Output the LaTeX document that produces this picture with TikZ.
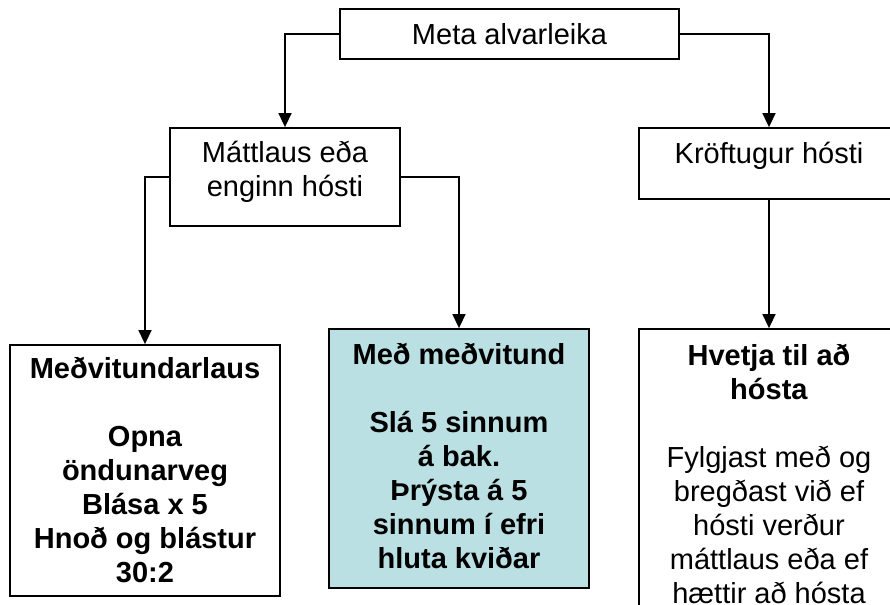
\documentclass[tikz,border=0pt]{standalone}
\usepackage{fontspec}
\setmainfont{Liberation Sans}
\usepackage{tikz}
\usetikzlibrary{arrows.meta}
\definecolor{ljosblar}{RGB}{187,224,227}
\tikzstyle{kassi} = [rectangle, draw=black, line width=0.9pt, inner sep=0pt, align=center, font=\fontsize{14.5}{17}\selectfont]
\tikzstyle{feitur} = [kassi, font=\fontsize{14.5}{17}\selectfont\bfseries]
\tikzstyle{arrow} = [line width=0.75pt, -{Triangle[length=7pt,width=6.5pt]}]

\begin{document}
\begin{tikzpicture}[x=0.5pt, y=-0.5pt]
        \useasboundingbox (0,0) rectangle (890,605);
        \clip (0,0) rectangle (890,605);
        \node (meta) [kassi, minimum width=169.5pt, minimum height=25pt] at (509.5,34) {Meta alvarleika};
        \node (mattlaus) [kassi, minimum width=115pt, minimum height=49pt, text depth=8.5pt] at (285,177) {Máttlaus eða\\enginn hósti};
        \node (kroftugur) [kassi, minimum width=130pt, minimum height=35.5pt, text depth=11pt] at (769,163.5) {Kröftugur hósti};
        \node (medvitundarlaus) [feitur, minimum width=135pt, minimum height=125.5pt] at (145,470.5) {Meðvitundarlaus\\[17pt]Opna\\öndunarveg\\Blása x 5\\Hnoð og blástur\\30:2};
        \node (medvitund) [feitur, fill=ljosblar, minimum width=130pt, minimum height=129.5pt, text depth=3pt] at (459,458.5) {Með meðvitund\\[17pt]Slá 5 sinnum\\ á bak.\\Þrýsta á 5\\sinnum í efri\\hluta kviðar};
        \node (hvetja) [kassi, minimum width=130pt, minimum height=147.5pt, text depth=3pt] at (769,476.5) {\textbf{Hvetja til að}\\\textbf{hósta}\\[17pt]Fylgjast með og\\bregðast við ef\\hósti verður\\máttlaus eða ef\\hættir að hósta};

        \draw [arrow] (meta.west) -| (mattlaus.north);
        \draw [arrow] (meta.east) -| (kroftugur.north);
        \draw [arrow] (mattlaus.west) -| (medvitundarlaus.north);
        \draw [arrow] (mattlaus.east) -| (medvitund.north);
        \draw [arrow] (kroftugur) -- (hvetja);
    \end{tikzpicture}
\end{document}
